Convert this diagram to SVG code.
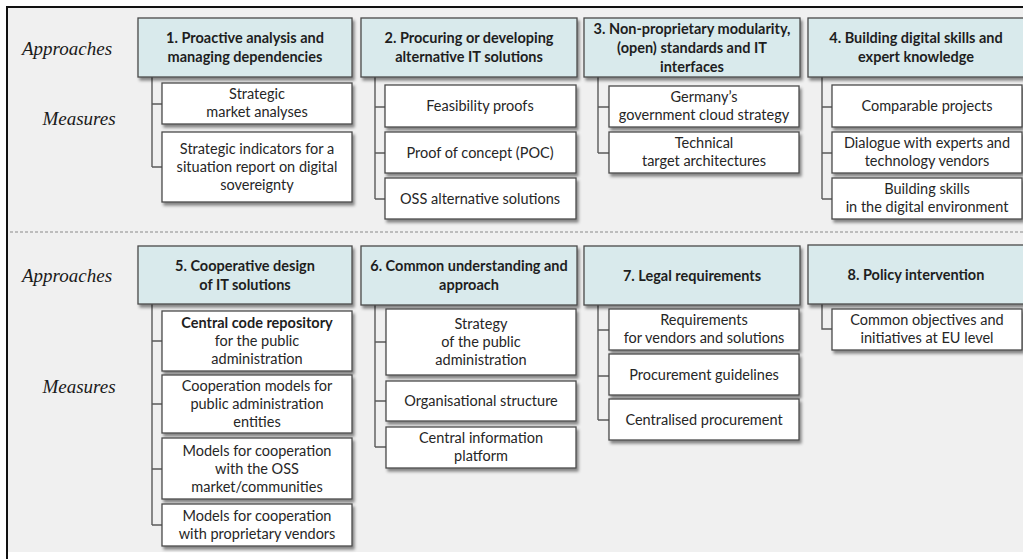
<svg xmlns="http://www.w3.org/2000/svg" width="1023" height="559" viewBox="0 0 1023 559">
  <defs>
    <filter id="shadow" x="-10%" y="-10%" width="130%" height="140%">
      <feDropShadow dx="2" dy="3" stdDeviation="1.6" flood-color="#000" flood-opacity="0.45"/>
    </filter>
  </defs>
  <style>
    .ap rect { fill: #d9eaec; stroke: #4a4a4a; stroke-width: 1.3; filter: url(#shadow); }
    .ap text { font-family: Lato, "Open Sans", sans-serif; font-weight: bold; font-size: 14.5px; fill: #1e1e1e; text-anchor: middle; }
    .ms rect { fill: #ffffff; stroke: #4a4a4a; stroke-width: 1.3; filter: url(#shadow); }
    .ms text { font-family: Lato, "Open Sans", sans-serif; font-size: 14.5px; fill: #262626; text-anchor: middle; }
    .ms text .b { font-weight: bold; fill: #1e1e1e; }
    .lbl { font-family: "Liberation Serif", serif; font-style: italic; font-size: 19px; fill: #1a1a1a; text-anchor: middle; }
    .conn path { fill: none; stroke: #5a5a5a; stroke-width: 1.4; }
    .sep { stroke: #8a8a8a; stroke-width: 1; stroke-dasharray: 3 2; }
  </style>

  <!-- frame and background -->
  <rect x="0" y="0" width="1023" height="559" fill="#ffffff"/>
  <rect x="7" y="7" width="1016" height="545" fill="#f0f0f0"/>
  <line x1="6" y1="7" x2="1023" y2="7" stroke="#111" stroke-width="2"/>
  <line x1="7" y1="6" x2="7" y2="559" stroke="#111" stroke-width="2"/>
  <line class="sep" x1="10" y1="232" x2="1023" y2="232"/>

  <!-- row labels -->
  <g id="labels">
    <text class="lbl" x="67" y="55">Approaches</text>
    <text class="lbl" x="79" y="125">Measures</text>
    <text class="lbl" x="67" y="282">Approaches</text>
    <text class="lbl" x="79" y="393">Measures</text>
  </g>

  <!-- connectors -->
  <g id="connectors" class="conn">
    <path d="M152 77 V167 M152 104 H162 M152 167 H162"/>
    <path d="M375 77 V199 M375 107 H385 M375 153 H385 M375 199 H385"/>
    <path d="M598 77 V153 M598 107 H609 M598 153 H609"/>
    <path d="M822 77 V199 M822 107 H832 M822 153 H832 M822 199 H832"/>
    <path d="M152 304 V525 M152 341 H162 M152 404 H162 M152 469 H162 M152 525 H162"/>
    <path d="M375 305 V447 M375 342 H386 M375 401 H386 M375 447 H386"/>
    <path d="M598 305 V420 M598 330 H609 M598 376 H609 M598 420 H609"/>
    <path d="M822 304 V329 H832"/>
  </g>

  <!-- approaches, upper row -->
  <g id="approach1" class="ap">
    <rect x="138" y="18" width="214" height="59"/>
    <text x="245" y="43">1. Proactive analysis and</text>
    <text x="245" y="62">managing dependencies</text>
  </g>
  <g id="approach2" class="ap">
    <rect x="361" y="18" width="216" height="59"/>
    <text x="469" y="43">2. Procuring or developing</text>
    <text x="469" y="62">alternative IT solutions</text>
  </g>
  <g id="approach3" class="ap">
    <rect x="584" y="18" width="216" height="59"/>
    <text x="692" y="34">3. Non-proprietary modularity,</text>
    <text x="692" y="53">(open) standards and IT</text>
    <text x="692" y="72">interfaces</text>
  </g>
  <g id="approach4" class="ap">
    <rect x="808" y="18" width="216" height="59"/>
    <text x="916" y="43">4. Building digital skills and</text>
    <text x="916" y="62">expert knowledge</text>
  </g>

  <!-- measures, upper row -->
  <g id="m1a" class="ms">
    <rect x="162" y="83" width="190" height="41"/>
    <text x="257" y="99">Strategic</text>
    <text x="257" y="117">market analyses</text>
  </g>
  <g id="m1b" class="ms">
    <rect x="162" y="132" width="190" height="70"/>
    <text x="257" y="154">Strategic indicators for a</text>
    <text x="257" y="172">situation report on digital</text>
    <text x="257" y="190">sovereignty</text>
  </g>
  <g id="m2a" class="ms">
    <rect x="385" y="85" width="191" height="42"/>
    <text x="480" y="111">Feasibility proofs</text>
  </g>
  <g id="m2b" class="ms">
    <rect x="385" y="132" width="191" height="41"/>
    <text x="480" y="158">Proof of concept (POC)</text>
  </g>
  <g id="m2c" class="ms">
    <rect x="385" y="178" width="191" height="41"/>
    <text x="480" y="204">OSS alternative solutions</text>
  </g>
  <g id="m3a" class="ms">
    <rect x="609" y="86" width="190" height="41"/>
    <text x="704" y="102">Germany’s</text>
    <text x="704" y="120">government cloud strategy</text>
  </g>
  <g id="m3b" class="ms">
    <rect x="609" y="132" width="190" height="41"/>
    <text x="704" y="148">Technical</text>
    <text x="704" y="166">target architectures</text>
  </g>
  <g id="m4a" class="ms">
    <rect x="832" y="85" width="190" height="42"/>
    <text x="927" y="111">Comparable projects</text>
  </g>
  <g id="m4b" class="ms">
    <rect x="832" y="132" width="190" height="41"/>
    <text x="927" y="148">Dialogue with experts and</text>
    <text x="927" y="166">technology vendors</text>
  </g>
  <g id="m4c" class="ms">
    <rect x="832" y="178" width="190" height="41"/>
    <text x="927" y="194">Building skills</text>
    <text x="927" y="212">in the digital environment</text>
  </g>

  <!-- approaches, lower row -->
  <g id="approach5" class="ap">
    <rect x="138" y="246" width="214" height="58"/>
    <text x="245" y="271">5. Cooperative design</text>
    <text x="245" y="290">of IT solutions</text>
  </g>
  <g id="approach6" class="ap">
    <rect x="361" y="246" width="216" height="59"/>
    <text x="469" y="271">6. Common understanding and</text>
    <text x="469" y="290">approach</text>
  </g>
  <g id="approach7" class="ap">
    <rect x="584" y="246" width="216" height="59"/>
    <text x="692" y="281">7. Legal requirements</text>
  </g>
  <g id="approach8" class="ap">
    <rect x="808" y="245" width="216" height="59"/>
    <text x="916" y="280">8. Policy intervention</text>
  </g>

  <!-- measures, lower row -->
  <g id="m5a" class="ms">
    <rect x="162" y="311" width="190" height="60"/>
    <text x="257" y="328"><tspan class="b">Central code repository</tspan></text>
    <text x="257" y="346">for the public</text>
    <text x="257" y="364">administration</text>
  </g>
  <g id="m5b" class="ms">
    <rect x="162" y="375" width="190" height="58"/>
    <text x="257" y="391">Cooperation models for</text>
    <text x="257" y="409">public administration</text>
    <text x="257" y="427">entities</text>
  </g>
  <g id="m5c" class="ms">
    <rect x="162" y="438" width="190" height="61"/>
    <text x="257" y="456">Models for cooperation</text>
    <text x="257" y="474">with the OSS</text>
    <text x="257" y="492">market/communities</text>
  </g>
  <g id="m5d" class="ms">
    <rect x="162" y="504" width="190" height="42"/>
    <text x="257" y="521">Models for cooperation</text>
    <text x="257" y="539">with proprietary vendors</text>
  </g>
  <g id="m6a" class="ms">
    <rect x="386" y="309" width="190" height="66"/>
    <text x="481" y="329">Strategy</text>
    <text x="481" y="347">of the public</text>
    <text x="481" y="365">administration</text>
  </g>
  <g id="m6b" class="ms">
    <rect x="386" y="381" width="190" height="40"/>
    <text x="481" y="406">Organisational structure</text>
  </g>
  <g id="m6c" class="ms">
    <rect x="386" y="427" width="190" height="41"/>
    <text x="481" y="443">Central information</text>
    <text x="481" y="461">platform</text>
  </g>
  <g id="m7a" class="ms">
    <rect x="609" y="309" width="190" height="41"/>
    <text x="704" y="325">Requirements</text>
    <text x="704" y="343">for vendors and solutions</text>
  </g>
  <g id="m7b" class="ms">
    <rect x="609" y="354" width="190" height="41"/>
    <text x="704" y="380">Procurement guidelines</text>
  </g>
  <g id="m7c" class="ms">
    <rect x="609" y="399" width="190" height="41"/>
    <text x="704" y="425">Centralised procurement</text>
  </g>
  <g id="m8a" class="ms">
    <rect x="832" y="309" width="190" height="41"/>
    <text x="927" y="325">Common objectives and</text>
    <text x="927" y="343">initiatives at EU level</text>
  </g>
</svg>
